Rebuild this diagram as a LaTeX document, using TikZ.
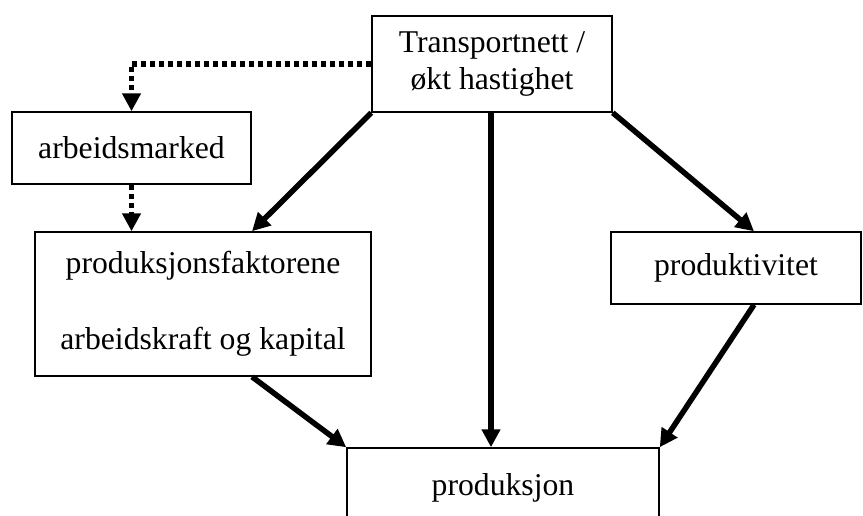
\documentclass[tikz,border=0pt]{standalone}
\usepackage{fontspec}
\setmainfont{Liberation Serif}
\usetikzlibrary{arrows.meta}
\begin{document}
\begin{tikzpicture}[x=1pt,y=-1pt,
  box/.style={draw,line width=1.5pt,inner sep=0pt,align=center,
    font=\fontsize{31.7}{37}\selectfont},
  link/.style={line width=5.5pt,-{Triangle[length=18pt,width=18pt]}},
  dotlink/.style={line width=5.5pt,dash pattern=on 5pt off 4pt,
    -{Triangle[length=18pt,width=18pt]}}]
\clip (0,0) rectangle (863,515);
\node[box,minimum width=240pt,minimum height=96pt] (tr) at (492,64)
  {Transportnett /\\økt hastighet};
\node[box,minimum width=239pt,minimum height=72pt] (am) at (131.5,148)
  {arbeidsmarked};
\node[box,minimum width=336pt,minimum height=144pt] (pf) at (203,304)
  {produksjonsfaktorene\\[39pt]arbeidskraft og kapital};
\node[box,minimum width=250pt,minimum height=72pt] (pv) at (736,268)
  {produktivitet};
\node[box,minimum width=312pt,minimum height=84pt] (pr) at (503,490)
  {\raisebox{12pt}{produksjon}};
\draw[dotlink] (tr.west) -| (am.north);
\draw[dotlink] (am.south) -- (am.south |- pf.north);
\draw[link] (tr.south west) -- ([xshift=49pt]pf.north);
\draw[link] ([xshift=-1pt]tr.south) -- ([xshift=-1pt]tr.south |- pr.north);
\draw[link] (tr.south east) -- ([xshift=18pt]pv.north);
\draw[link] ([xshift=18pt]pv.south) -- (pr.north east);
\draw[link] ([xshift=49pt]pf.south) -- (pr.north west);
\end{tikzpicture}
\end{document}
